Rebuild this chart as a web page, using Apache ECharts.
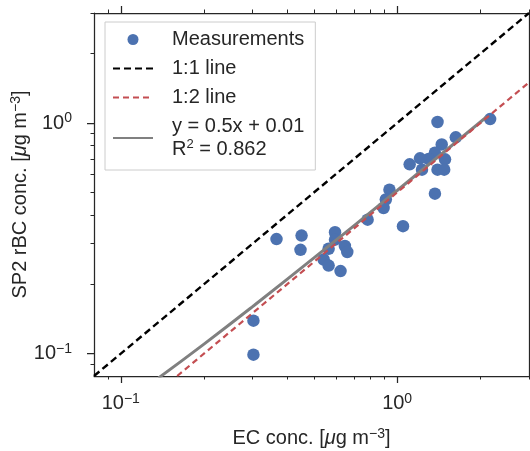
<!DOCTYPE html>
<html>
<head>
<meta charset="utf-8">
<script src="https://cdn.jsdelivr.net/npm/echarts@6/dist/echarts.min.js"></script>
<style>
html,body{margin:0;padding:0;background:#fff;}
#chart{width:530px;height:451px;}
</style>
</head>
<body>
<div id="chart"></div>
<script>
// ---- data ----
var ecX  = [2.17, 1.40, 1.63, 1.45, 1.37, 1.30, 1.21, 1.11, 1.49, 1.23, 1.40, 1.48, 1.37, 0.938, 0.91, 0.893, 0.782, 1.05,
            0.366, 0.451, 0.447, 0.596, 0.596, 0.565, 0.647, 0.66, 0.542, 0.565, 0.624, 0.302, 0.302];
var rbcY = [1.04, 1.01, 0.867, 0.808, 0.744, 0.698, 0.703, 0.662, 0.696, 0.628, 0.628, 0.628, 0.494, 0.514, 0.466, 0.428, 0.381, 0.357,
            0.314, 0.325, 0.282, 0.336, 0.312, 0.285, 0.293, 0.276, 0.256, 0.241, 0.228, 0.139, 0.099];
var oneToOneX = [0.08, 3];
var oneToOneY = [0.08, 3];
var oneToTwoX = [0.16, 3];
var oneToTwoY = [0.08, 1.5];
var fitX = [0.137, 0.2, 0.3, 0.5, 1.0, 2.11];
var fitY = [0.0785, 0.11, 0.16, 0.26, 0.51, 1.065];
var majorTicks = [0.1, 1];
var minorTicks = [0.09, 0.2, 0.3, 0.4, 0.5, 0.6, 0.7, 0.8, 0.9, 2, 3];
var seriesNames = ['Measurements', '1:1 line', '1:2 line', 'fit'];
var fitLabel = ['y = 0.5x + 0.01', 'R', '2', ' = 0.862'];
var xName = ['EC conc. [', 'μ', 'g m', '−3', ']'];
var yName = ['SP2 rBC conc. [', 'μ', 'g m', '−3', ']'];

function pairs(xs, ys) { return xs.map(function (v, i) { return [v, ys[i]]; }); }

var TXT = '#262626';
var FONT = 'Liberation Sans';
var rich = {
  b: { fontSize: 20, fontFamily: FONT, color: TXT, lineHeight: 23 },
  i: { fontSize: 20, fontFamily: FONT, color: TXT, lineHeight: 23, fontStyle: 'italic' },
  s: { fontSize: 14, fontFamily: FONT, color: TXT, lineHeight: 14, verticalAlign: 'top' }
};
function tickFmt(v) {
  var e = Math.round(Math.log10(v));
  return '{b|10}{s|' + (e < 0 ? '−' + (-e) : e) + '}';
}
function nameRich(parts) {
  return '{b|' + parts[0] + '}{i|' + parts[1] + '}{b|' + parts[2] + '}{s|' + parts[3] + '}{b|' + parts[4] + '}';
}
var lineCol = { color: TXT, width: 1.25 };

function axisBase(extra) {
  var a = {
    type: 'log', logBase: 10, min: 0.08, max: 3,
    splitLine: { show: false },
    axisLine: { show: false, onZero: false, lineStyle: lineCol },
    axisTick: { show: false },
    axisLabel: { show: false }
  };
  for (var k in extra) a[k] = extra[k];
  return a;
}

var option = {
  animation: false,
  backgroundColor: '#fff',
  grid: { left: 94, right: 1, top: 13, bottom: 75, containLabel: false, outerBoundsMode: 'none' },
  xAxis: [
    axisBase({
      position: 'bottom',
      axisLine: { show: true, onZero: false, lineStyle: lineCol },
      axisTick: { show: true, inside: false, length: 7, customValues: majorTicks, lineStyle: lineCol },
      axisLabel: { show: true, customValues: majorTicks, margin: 16, formatter: tickFmt, rich: rich },
      name: nameRich(xName), nameLocation: 'middle', nameGap: 51, nameMoveOverlap: false,
      nameTextStyle: { rich: rich }
    }),
    axisBase({
      position: 'bottom',
      axisTick: { show: true, inside: false, length: 3.5, customValues: minorTicks, lineStyle: { color: TXT, width: 1 } }
    }),
    axisBase({
      position: 'top',
      axisLine: { show: true, onZero: false, lineStyle: lineCol },
      axisTick: { show: true, inside: false, length: 7, customValues: majorTicks, lineStyle: lineCol }
    }),
    axisBase({
      position: 'top',
      axisTick: { show: true, inside: false, length: 3.5, customValues: minorTicks, lineStyle: { color: TXT, width: 1 } }
    })
  ],
  yAxis: [
    axisBase({
      position: 'left',
      axisLine: { show: true, onZero: false, lineStyle: lineCol },
      axisTick: { show: true, inside: false, length: 7, customValues: majorTicks, lineStyle: lineCol },
      axisLabel: { show: true, customValues: majorTicks, margin: 22, formatter: tickFmt, rich: rich },
      name: nameRich(yName), nameLocation: 'middle', nameGap: 62, nameMoveOverlap: false,
      nameTextStyle: { rich: rich }
    }),
    axisBase({
      position: 'left',
      axisTick: { show: true, inside: false, length: 3.5, customValues: minorTicks, lineStyle: { color: TXT, width: 1 } }
    }),
    axisBase({
      position: 'right',
      axisLine: { show: true, onZero: false, lineStyle: lineCol }
    })
  ],
  legend: {
    orient: 'vertical',
    left: 105, top: 22,
    padding: [6, 11, 9, 7],
    itemGap: 6,
    itemWidth: 40, itemHeight: 11,
    borderColor: '#cccccc', borderWidth: 1, borderRadius: 0,
    backgroundColor: '#fff',
    selectedMode: false,
    textStyle: {
      fontFamily: FONT, fontSize: 20, color: TXT, lineHeight: 23, padding: [0, 0, 0, 14],
      rich: {
        b: { fontSize: 20, fontFamily: FONT, color: TXT, lineHeight: 23 },
        s: { fontSize: 13, fontFamily: FONT, color: TXT, lineHeight: 14, verticalAlign: 'top' }
      }
    },
    data: [
      { name: seriesNames[0] },
      { name: seriesNames[1], itemStyle: { opacity: 0 } },
      { name: seriesNames[2], itemStyle: { opacity: 0 } },
      { name: seriesNames[3], itemStyle: { opacity: 0 } }
    ],
    formatter: function (n) {
      if (n === 'fit') return '{b|' + fitLabel[0] + '}\n{b|' + fitLabel[1] + '}{s|' + fitLabel[2] + '}{b|' + fitLabel[3] + '}';
      return n;
    }
  },
  series: [
    {
      name: seriesNames[0], type: 'scatter', data: pairs(ecX, rbcY),
      symbol: 'circle', symbolSize: 12.5,
      itemStyle: { color: '#4c72b0', opacity: 1 }, z: 2
    },
    {
      name: seriesNames[1], type: 'line', data: pairs(oneToOneX, oneToOneY),
      symbol: 'none', lineStyle: { color: '#000000', width: 2.4, type: [7, 4] }, z: 3
    },
    {
      name: seriesNames[2], type: 'line', data: pairs(oneToTwoX, oneToTwoY),
      symbol: 'none', lineStyle: { color: '#c44e52', width: 2.2, type: [6, 4] }, z: 4
    },
    {
      name: seriesNames[3], type: 'line', data: pairs(fitX, fitY), smooth: true,
      symbol: 'none', itemStyle: { color: '#808080' }, lineStyle: { color: '#808080', width: 3 }, z: 3
    }
  ]
};

var chart = echarts.init(document.getElementById('chart'), null, { renderer: 'canvas' });
chart.setOption(option);
</script>
</body>
</html>
